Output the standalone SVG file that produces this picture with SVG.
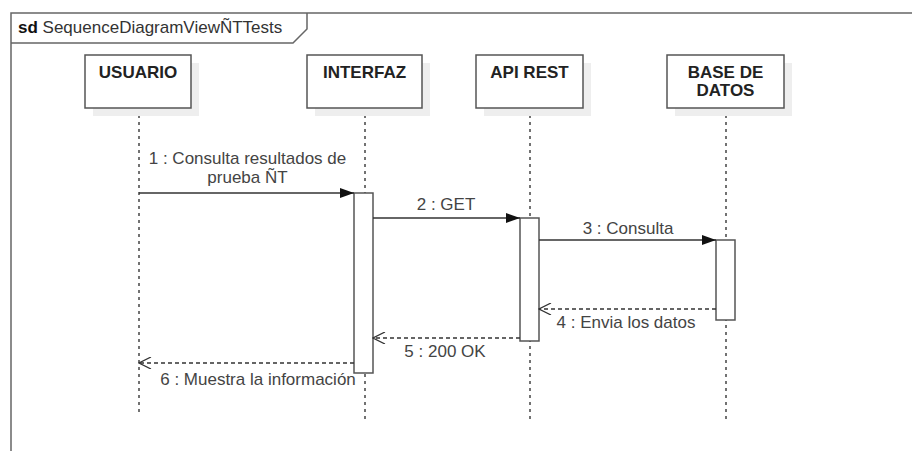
<svg xmlns="http://www.w3.org/2000/svg" width="912" height="451" viewBox="0 0 912 451">
<defs>
<style>
.frame{fill:none;stroke:#666;stroke-width:1.5}
.box{fill:#fff;stroke:#555;stroke-width:1.5}
.shadow{fill:#eeeeee}
.pname{font-family:"Liberation Sans",Arial,sans-serif;font-size:17px;font-weight:bold;fill:#222;text-anchor:middle}
.life{stroke:#444;stroke-width:1.5;stroke-dasharray:3 4;fill:none}
.act{fill:#fff;stroke:#555;stroke-width:1.5}
.msg{stroke:#333;stroke-width:1.3;fill:none}
.ret{stroke:#333;stroke-width:1.3;fill:none;stroke-dasharray:4 3}
.lbl{font-family:"Liberation Sans",Arial,sans-serif;font-size:17px;fill:#444;text-anchor:middle}
</style>
<marker id="solid" markerWidth="14" markerHeight="10" refX="14" refY="5" orient="auto" markerUnits="userSpaceOnUse">
<path d="M0,0 L14,5 L0,10 Z" fill="#111"/>
</marker>
<marker id="open" markerWidth="14" markerHeight="12" refX="13" refY="6" orient="auto" markerUnits="userSpaceOnUse">
<path d="M1,0 L13,6 L1,12" fill="none" stroke="#333" stroke-width="1.3"/>
</marker>
</defs>
<rect width="912" height="451" fill="#fff"/>
<g id="frame">
<path class="frame" d="M11,451 L11,13 L912,13"/>
<path class="frame" d="M11,43 L293,43 L307,29 L307,13"/>
<text x="18" y="33" font-family="'Liberation Sans',Arial,sans-serif" font-size="17" fill="#333"><tspan font-weight="bold" fill="#111">sd</tspan> SequenceDiagramViewÑTTests</text>
</g>
<g id="lifelines">
<line class="life" x1="139" y1="108" x2="139" y2="415"/>
<line class="life" x1="365" y1="108" x2="365" y2="423"/>
<line class="life" x1="530" y1="108" x2="530" y2="423"/>
<line class="life" x1="726" y1="108" x2="726" y2="423"/>
</g>
<g id="usuario">
<rect class="shadow" x="93" y="63" width="106" height="53"/>
<rect class="box" x="85" y="55" width="106" height="53"/>
<text class="pname" x="138" y="78">USUARIO</text>
</g>
<g id="interfaz">
<rect class="shadow" x="315" y="63" width="115" height="53"/>
<rect class="box" x="307" y="55" width="115" height="53"/>
<text class="pname" x="364.5" y="78">INTERFAZ</text>
</g>
<g id="apirest">
<rect class="shadow" x="484" y="63" width="107" height="53"/>
<rect class="box" x="476" y="55" width="107" height="53"/>
<text class="pname" x="529.5" y="78">API REST</text>
</g>
<g id="basededatos">
<rect class="shadow" x="675" y="63" width="117" height="53"/>
<rect class="box" x="667" y="55" width="117" height="53"/>
<text class="pname" x="725.5" y="78">BASE DE</text>
<text class="pname" x="725.5" y="96">DATOS</text>
</g>
<g id="activations">
<rect class="act" x="354" y="193" width="19" height="180"/>
<rect class="act" x="520" y="218" width="19" height="123"/>
<rect class="act" x="716" y="240" width="19" height="80"/>
</g>
<g id="connectors">
<line class="msg" x1="139" y1="193" x2="354" y2="193" marker-end="url(#solid)"/>
<line class="msg" x1="373" y1="218" x2="520" y2="218" marker-end="url(#solid)"/>
<line class="msg" x1="539" y1="240" x2="716" y2="240" marker-end="url(#solid)"/>
<line class="ret" x1="716" y1="309" x2="539" y2="309" marker-end="url(#open)"/>
<line class="ret" x1="520" y1="338" x2="373" y2="338" marker-end="url(#open)"/>
<line class="ret" x1="354" y1="363" x2="139" y2="363" marker-end="url(#open)"/>
</g>
<g id="labels">
<text class="lbl" x="247.5" y="164">1 : Consulta resultados de</text>
<text class="lbl" x="247.5" y="183">prueba ÑT</text>
<text class="lbl" x="446" y="210">2 : GET</text>
<text class="lbl" x="628" y="234">3 : Consulta</text>
<text class="lbl" x="626" y="328">4 : Envia los datos</text>
<text class="lbl" x="445" y="357">5 : 200 OK</text>
<text class="lbl" x="258" y="385">6 : Muestra la información</text>
</g>
</svg>
